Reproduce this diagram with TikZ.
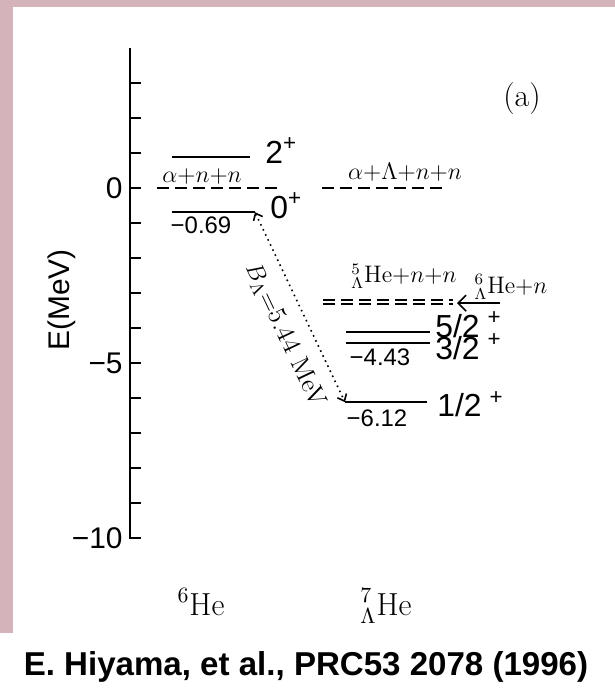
\documentclass[tikz,border=0pt]{standalone}
\usepackage{amsmath,amssymb}
\usepackage{fontspec}
\newfontfamily\helv{Liberation Sans}
\usetikzlibrary{arrows.meta,calc}
\definecolor{marble}{RGB}{212,180,186}
\newcommand{\hyHe}[1]{${}^{#1}_{\Lambda}$He}
\tikzset{
  lvl/.style={line width=1bp},
  thresh/.style={line width=0.9bp,dash pattern=on 6bp off 3bp},
  axnum/.style={font=\helv\fontsize{15}{17}\selectfont,inner sep=0pt},
  spinlab/.style={font=\helv\fontsize{16}{18}\selectfont,inner sep=0pt},
  enlab/.style={font=\helv\fontsize{12}{14}\selectfont,inner sep=0pt},
  chan/.style={font=\fontsize{12}{14}\selectfont,inner sep=0pt},
}

\begin{document}
\begin{tikzpicture}[x=0.5bp,y=17.5bp]
\useasboundingbox (0,5.3714) rectangle (615,-14.3714);
% ---- marbled frame ----
\fill[marble] (0,5.3714) rectangle (615,5.18);
\fill[marble] (0,5.3714) rectangle (13,-12.714);
% ---- energy axis ----
\draw[line width=1bp] (130,4) -- (130,-10) -- (141,-10);
\foreach \ee in {-9,...,3} {\draw[line width=0.8bp] (130,\ee) -- (141,\ee);}
\node[axnum,anchor=east] (n0) at (123,0) {0};
\node[axnum,anchor=east] (n5) at (123,-5) {−5};
\node[axnum,anchor=east] (n10) at (123,-10) {−10};
\node[font=\helv\fontsize{15}{17}\selectfont,rotate=90] (elab) at (62,-3.2) {E(MeV)};
\node[font=\fontsize{16}{18}\selectfont] (panel) at (522,2.57) {(a)};
% ---- 6He ----
\draw[lvl] (172,0.89) -- (250,0.89);
\node[spinlab,anchor=base west] (l2p) at (265,0.71) {2\textsuperscript{+}};
\draw[thresh] (157,0) -- (277,0);
\node[chan] (th6) at (202,0.33) {$\alpha{+}n{+}n$};
\draw[lvl] (172,-0.69) -- (255,-0.69) coordinate (gs6);
\node[spinlab,anchor=base west] (l0p) at (270,-0.86) {0\textsuperscript{+}};
\node[enlab] (e069) at (201,-1.06) {−0.69};
% ---- 7LHe ----
\draw[thresh] (322,0) -- (443,0);
\node[chan] (th7) at (405,0.46) {$\alpha{+}\Lambda{+}n{+}n$};
\draw[thresh] (323,-3.20) -- (453,-3.20);
\draw[thresh] (323,-3.32) -- (453,-3.32);
\node[chan,anchor=base] (th5) at (404,-2.71) {\hyHe{5}${+}n{+}n$};
\coordinate (thin) at (457,-3.29);
\coordinate (thout) at (500,-3.29);
\draw[line width=0.8bp,-{Straight Barb[length=4bp,width=8bp]}] (thout) -- (thin);
\node[chan,anchor=base] (th6l) at (511,-3.0) {\hyHe{6}${+}n$};
\draw[lvl] (346,-4.11) -- (430,-4.11);
\draw[lvl] (346,-4.43) -- (430,-4.43);
\draw[lvl] (345,-6.12) coordinate (gs7) -- (427,-6.12);
\node[spinlab,anchor=base west] (l52) at (435,-4.26) {5/2\hspace{4bp}\textsuperscript{+}};
\node[spinlab,anchor=base west] (l32) at (435,-4.89) {3/2\hspace{4bp}\textsuperscript{+}};
\node[spinlab,anchor=base west] (l12) at (437,-6.54) {1/2\hspace{4bp}\textsuperscript{+}};
\node[enlab] (e443) at (380,-4.83) {−4.43};
\node[enlab] (e612) at (377,-6.57) {−6.12};
% ---- binding energy ----
\draw[dotted,line width=0.8bp,{Straight Barb[length=3bp,width=5bp]}-{Straight Barb[length=3bp,width=5bp]}] (gs6) -- (gs7)
  node[pos=0.59,sloped,below=7bp,inner sep=0pt,font=\fontsize{13}{15}\selectfont] (bl) {$B_\Lambda$=5.44 MeV};
% ---- nuclei ----
\node[font=\fontsize{16}{18}\selectfont,anchor=base] (he6) at (201,-12.2) {$^{6}$He};
\node[font=\fontsize{16}{18}\selectfont,anchor=base] (he7) at (386,-12.2) {\hyHe{7}};
\node[font=\helv\bfseries\fontsize{16.6}{19}\selectfont] (cite) at (306,-13.69) {E. Hiyama, et al., PRC53 2078 (1996)};
\end{tikzpicture}
\end{document}
